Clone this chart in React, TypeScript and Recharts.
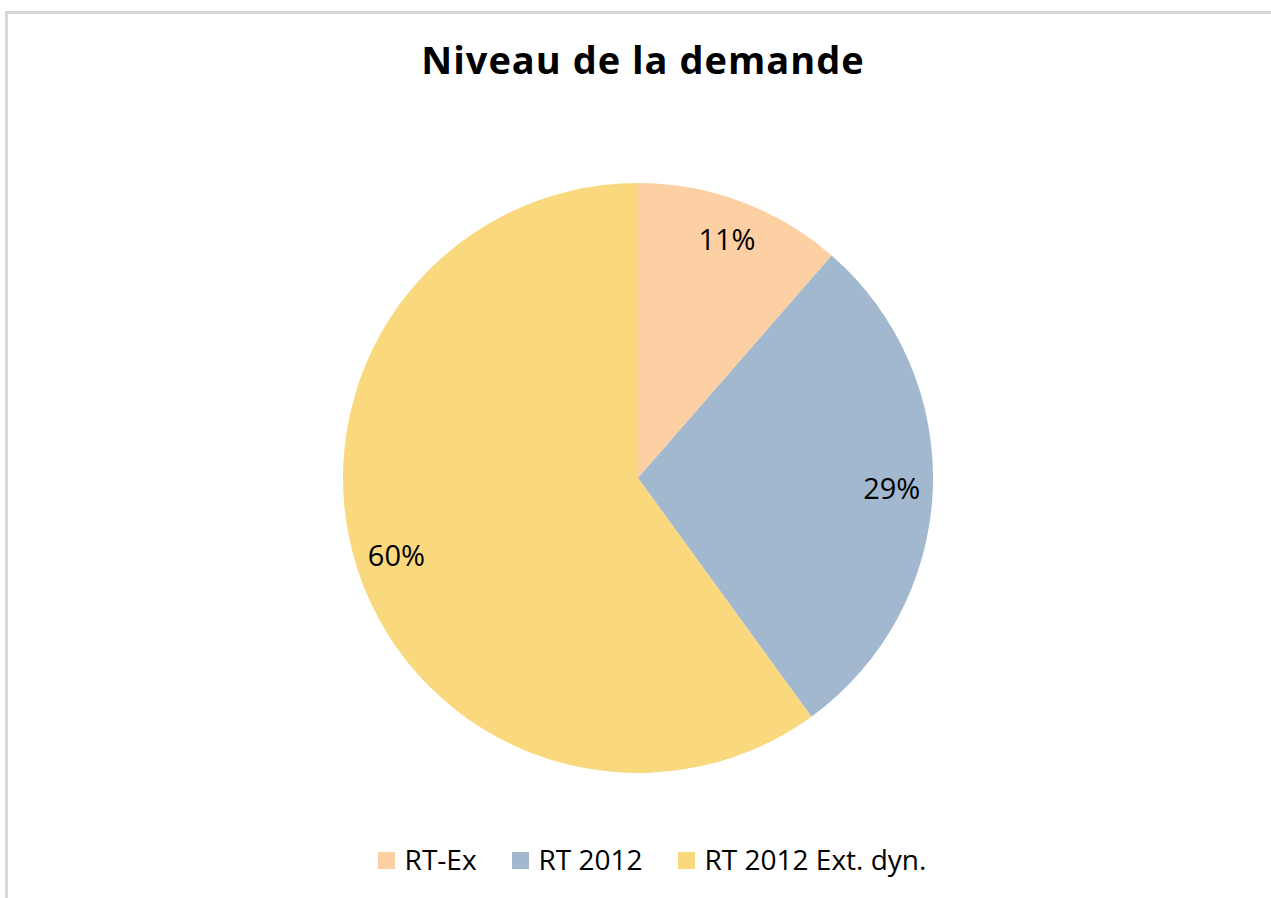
import React from "react";
import { PieChart, Pie, Cell, Legend } from "recharts";

const categories = ["RT-Ex", "RT 2012", "RT 2012 Ext. dyn."];
const values = [11.4, 28.6, 60.0];
const colors = ["#FCD0A3", "#A2B8CF", "#F9D87E"];
const title = "Niveau de la demande";

const data = categories.map((name, i) => ({ name, value: values[i] }));

const FONT = "'Open Sans', 'Liberation Sans', sans-serif";
const RADIAN = Math.PI / 180;

const renderLabel = (props: any) => {
  const { cx, cy, midAngle, percent } = props;
  const r = 254;
  const x = cx + r * Math.cos(-midAngle * RADIAN);
  const y = cy + r * Math.sin(-midAngle * RADIAN);
  return (
    <text
      x={x}
      y={y + 10}
      fill="#000"
      textAnchor="middle"
      style={{ fontFamily: FONT, fontSize: 29 }}
    >
      {`${Math.round(percent * 100)}%`}
    </text>
  );
};

const renderLegend = () => (
  <div
    style={{
      display: "flex",
      justifyContent: "center",
      alignItems: "center",
      fontFamily: FONT,
      fontSize: 28,
      lineHeight: "30px",
      height: 30,
      color: "#000",
      paddingLeft: 33,
      boxSizing: "border-box",
    }}
  >
    {categories.map((c, i) => (
      <div
        key={c}
        style={{ display: "flex", alignItems: "center", marginRight: i < categories.length - 1 ? 35 : 0 }}
      >
        <span
          style={{ display: "inline-block", width: 17, height: 17, background: colors[i], marginRight: 10, marginTop: 3 }}
        />
        <span>{c}</span>
      </div>
    ))}
  </div>
);

export default function App() {
  return (
    <div style={{ position: "absolute", left: 0, top: 0, width: 1271, height: 898, background: "#fff" }}>
      <div
        style={{
          position: "absolute",
          left: 5,
          top: 11,
          width: 1266,
          height: 887,
          borderTop: "3px solid #d6d6d6",
          borderLeft: "3px solid #d6d6d6",
          boxSizing: "border-box",
        }}
      />
      <svg style={{ position: "absolute", left: 0, top: 0 }} width={1271} height={120}>
        <text
          x={643}
          y={74}
          textAnchor="middle"
          fill="#000"
          style={{ fontFamily: FONT, fontWeight: 700, fontSize: 38, letterSpacing: 1 }}
        >
          {title}
        </text>
      </svg>
      <div style={{ position: "absolute", left: 0, top: 0 }}>
        <PieChart width={1271} height={898} margin={{ top: 0, right: 0, bottom: 0, left: 0 }}>
          <Pie
            data={data}
            dataKey="value"
            nameKey="name"
            cx={638}
            cy={478}
            outerRadius={295}
            startAngle={90}
            endAngle={-270}
            stroke="none"
            label={renderLabel}
            labelLine={false}
            isAnimationActive={false}
          >
            {data.map((d, i) => (
              <Cell key={d.name} fill={colors[i]} />
            ))}
          </Pie>
          <Legend
            content={renderLegend}
            layout="horizontal"
            verticalAlign="bottom"
            align="center"
            wrapperStyle={{ left: 0, width: 1271, top: 844, bottom: "auto" }}
          />
        </PieChart>
      </div>
    </div>
  );
}
